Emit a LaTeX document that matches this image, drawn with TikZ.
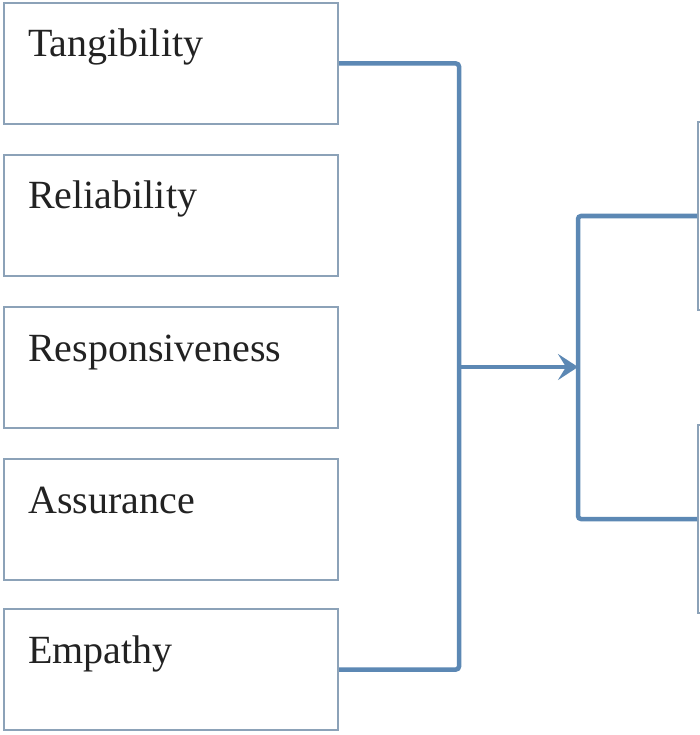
\documentclass[tikz,border=0pt]{standalone}
\usepackage{fontspec}
\setmainfont{Liberation Serif}
\usetikzlibrary{arrows.meta}
\definecolor{boxline}{RGB}{140,162,184}
\definecolor{connline}{RGB}{92,136,180}
\definecolor{txt}{RGB}{34,34,34}
\tikzset{
  box/.style={draw=boxline, line width=2pt, fill=white, minimum width=334pt, minimum height=121pt, anchor=north west, inner sep=0pt},
  rbox/.style={draw=boxline, line width=2pt, fill=white, minimum width=200pt, minimum height=188pt, anchor=west, inner sep=0pt},
  lbl/.style={anchor=base west, inner sep=0pt, text=txt, font=\fontsize{40}{48}\selectfont},
  conn/.style={draw=connline, line width=4.5pt, rounded corners=3pt}
}
\begin{document}
\begin{tikzpicture}[x=1pt,y=-1pt]
\useasboundingbox (0,0) rectangle (700,735);
\clip (0,0) rectangle (700,735);
\fill[white] (0,0) rectangle (700,735);
\node[box] (b1) at (3,2) {};
\node[box] (b2) at (3,154) {};
\node[box] (b3) at (3,306) {};
\node[box] (b4) at (3,458) {};
\node[box] (b5) at (3,608) {};
\node[lbl] (t1) at ([xshift=25pt,yshift=-55pt]b1.north west) {Tangibility};
\node[lbl] (t2) at ([xshift=25pt,yshift=-55pt]b2.north west) {Reliability};
\node[lbl] (t3) at ([xshift=25pt,yshift=-55pt]b3.north west) {Responsiveness};
\node[lbl] (t4) at ([xshift=25pt,yshift=-55pt]b4.north west) {Assurance};
\node[lbl] (t5) at ([xshift=25pt,yshift=-55pt]b5.north west) {Empathy};
\node[rbox] (r1) at (697,216) {};
\node[rbox] (r2) at (697,519) {};
\coordinate (mid) at (459,367);
\coordinate (hub) at (578,367);
\draw[conn] (b1.east) -| (mid) |- (b5.east);
\draw[conn] (r1.west) -| (hub) |- (r2.west);
\draw[draw=connline, line width=4.5pt, -{Stealth[length=20pt,width=26pt,inset=8pt]}] (mid) -- (hub);
\end{tikzpicture}
\end{document}
